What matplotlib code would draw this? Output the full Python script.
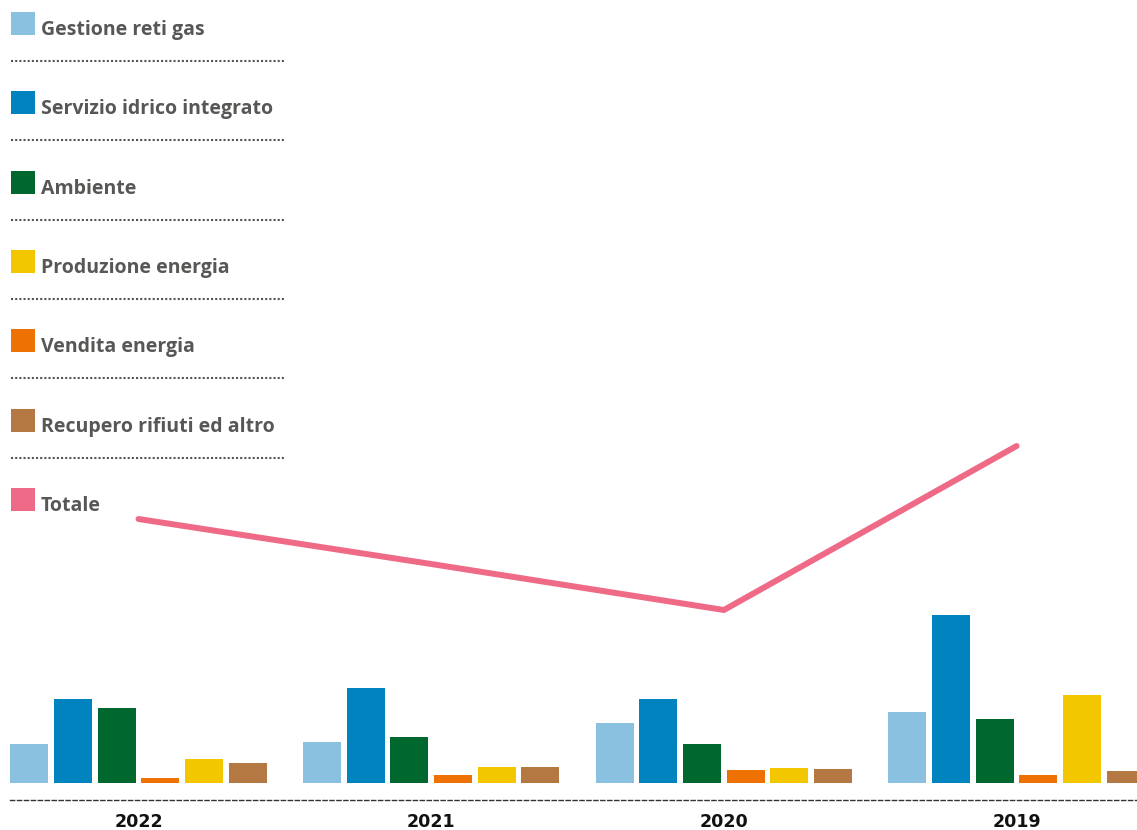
import matplotlib
matplotlib.use("Agg")
import matplotlib.pyplot as plt
from matplotlib.patches import Rectangle
import numpy as np

years = ["2022", "2021", "2020", "2019"]
series_names = ["Gestione reti gas", "Servizio idrico integrato", "Ambiente",
                "Vendita energia", "Produzione energia", "Recupero rifiuti ed altro"]
gestione_reti_gas = [39, 41, 60, 71]
servizio_idrico = [84, 95, 84, 168]
ambiente = [75, 46, 39, 64]
vendita_energia = [5, 8, 13, 8]
produzione_energia = [24, 16, 15, 88]
recupero_rifiuti = [20, 16, 14, 12]
totale = [264, 219, 173, 337]

legend_labels = ["Gestione reti gas", "Servizio idrico integrato", "Ambiente",
                 "Produzione energia", "Vendita energia", "Recupero rifiuti ed altro", "Totale"]

colors = {
    "Gestione reti gas": "#8AC1E0",
    "Servizio idrico integrato": "#0083BE",
    "Ambiente": "#00672F",
    "Vendita energia": "#EE7203",
    "Produzione energia": "#F2C700",
    "Recupero rifiuti ed altro": "#B47843",
    "Totale": "#EE6A86",
}

W, H = 1137, 830
fig = plt.figure(figsize=(W / 100, H / 100), dpi=100)

# main axes
ax = fig.add_axes([10 / W, (H - 800) / H, (W - 10) / W, (800 - 400) / H])
ax.patch.set_visible(False)
x = np.arange(len(years))
step = 43.7 / 292.7
bw = 38 / 292.7
series_vals = [gestione_reti_gas, servizio_idrico, ambiente,
               vendita_energia, produzione_energia, recupero_rifiuti]
for j, (name, vals) in enumerate(zip(series_names, series_vals)):
    ax.bar(x + (j - 2.5) * step, vals, width=bw, color=colors[name], zorder=2)

ax.plot(x, totale, color=colors["Totale"], lw=4.3, solid_capstyle="round",
        solid_joinstyle="miter", zorder=3)

ax.set_xlim((10 - 138.5) / 292.7, (1137 - 138.5) / 292.7)
ax.set_ylim(-17, 383)
for s in ["left", "right", "top"]:
    ax.spines[s].set_visible(False)
ax.spines["bottom"].set_linestyle((0, (3, 2)))
ax.spines["bottom"].set_linewidth(1.0)
ax.spines["bottom"].set_color("#333333")
ax.set_yticks([])
ax.set_xticks(x)
ax.set_xticklabels(years, fontsize=12.6, fontweight="bold", color="#111111",
                   family="DejaVu Sans")
ax.tick_params(axis="x", length=0, pad=9)

# legend overlay
lax = fig.add_axes([0, 0, 1, 1])
lax.set_xlim(0, W)
lax.set_ylim(H, 0)
lax.axis("off")
lax.patch.set_visible(False)
for i, lab in enumerate(legend_labels):
    top = 12 + 79.3 * i
    lax.add_patch(Rectangle((11, top), 24, 23, color=colors[lab], lw=0))
    lax.text(41, top + 23, lab, fontsize=14.0, color="#575756",
             family="Open Sans", fontweight="bold", va="baseline", ha="left")
    if i < len(legend_labels) - 1:
        yy = top + 49
        lax.plot([11, 286], [yy, yy], color="#555555", lw=1.5,
                 linestyle=(0, (1, 1)))

fig.savefig("out.png", dpi=100)
